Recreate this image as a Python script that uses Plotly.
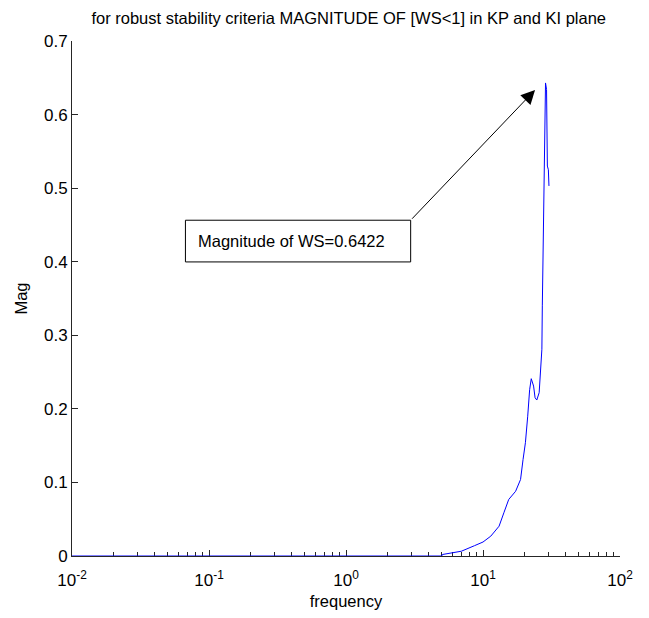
import plotly.graph_objects as go

# Data
frequency = [0.01, 1.0, 5.0, 5.05, 6.95, 8.66, 10.0, 11.4, 13.1, 14.2, 15.4, 17.3, 18.8,
             19.6, 20.4, 21.2, 21.9, 22.5, 23.4, 24.0, 24.7, 25.7, 26.1, 26.4, 26.9,
             27.1, 27.6, 28.0, 28.6, 29.1, 29.5, 30.0, 30.3]
magnitude = [0.0, 0.0, 0.0, 0.002, 0.0065, 0.014, 0.019, 0.027, 0.0405, 0.0587, 0.0768,
             0.088, 0.104, 0.131, 0.154, 0.190, 0.226, 0.241, 0.231, 0.215, 0.212, 0.222,
             0.244, 0.2535, 0.281, 0.340, 0.444, 0.584, 0.643, 0.634, 0.530, 0.525, 0.503]

x_tickvals = [0.01, 0.1, 1, 10, 100]
x_ticktext = ["10<sup>-2</sup>", "10<sup>-1</sup>", "10<sup>0</sup>", "10<sup>1</sup>", "10<sup>2</sup>"]
x_minor_tickvals = [m * d for d in [0.01, 0.1, 1, 10] for m in range(2, 10)]
y_tickvals = [0, 0.1, 0.2, 0.3, 0.4, 0.5, 0.6, 0.7]
y_ticktext = ["0", "0.1", "0.2", "0.3", "0.4", "0.5", "0.6", "0.7"]

title_text = "for robust stability criteria MAGNITUDE OF [WS<1] in KP and KI plane"
note_text = "Magnitude of WS=0.6422"

font_family = "Liberation Sans, Arial, sans-serif"
axis_color = "#262626"

fig = go.Figure()
fig.add_trace(go.Scatter(x=frequency, y=magnitude, mode="lines",
                         line=dict(color="#0000ff", width=1), showlegend=False))

fig.update_layout(
    width=649, height=618,
    margin=dict(l=57, r=37, t=33, b=70),
    paper_bgcolor="white", plot_bgcolor="white",
    font=dict(family=font_family, size=17, color="black"),
    title=dict(text=title_text, x=0.525, xanchor="center", y=0.992, yanchor="top",
               font=dict(size=16.5, family=font_family, color="black")),
    xaxis=dict(type="log", range=[-2, 2], tickvals=x_tickvals, ticktext=x_ticktext,
               ticks="inside", ticklen=6, tickcolor=axis_color, showline=True, linecolor=axis_color,
               linewidth=1, showgrid=False, zeroline=False, layer="below traces",
               tickfont=dict(size=17), ticklabelstandoff=9,
               minor=dict(tickvals=x_minor_tickvals, ticks="inside", ticklen=4,
                          tickcolor=axis_color, showgrid=False),
               title=dict(text="frequency", font=dict(size=16.5), standoff=6)),
    yaxis=dict(range=[0, 0.7], tickvals=y_tickvals, ticktext=y_ticktext,
               ticks="inside", ticklen=6, tickcolor=axis_color, showline=True, linecolor=axis_color,
               linewidth=1, showgrid=False, zeroline=False, layer="below traces",
               tickfont=dict(size=17),
               title=dict(text="Mag", font=dict(size=16.5), standoff=12)),
)

# text box
fig.add_shape(type="rect", xref="x domain", yref="y domain",
              x0=0.207, x1=0.618, y0=0.571, y1=0.652,
              line=dict(color="black", width=1), fillcolor="white")
fig.add_annotation(xref="x domain", yref="y domain", x=0.226, y=0.611,
                   xanchor="left", yanchor="middle", text=note_text, showarrow=False,
                   font=dict(size=16.5, family=font_family, color="black"))
# arrow
fig.add_annotation(xref="x domain", yref="y domain", x=0.845, y=0.905,
                   axref="x domain", ayref="y domain", ax=0.618, ay=0.652,
                   text="", showarrow=True, arrowhead=2, arrowsize=2.8, arrowwidth=1,
                   arrowcolor="black", standoff=0, startstandoff=0)

fig.write_html("out.html")
